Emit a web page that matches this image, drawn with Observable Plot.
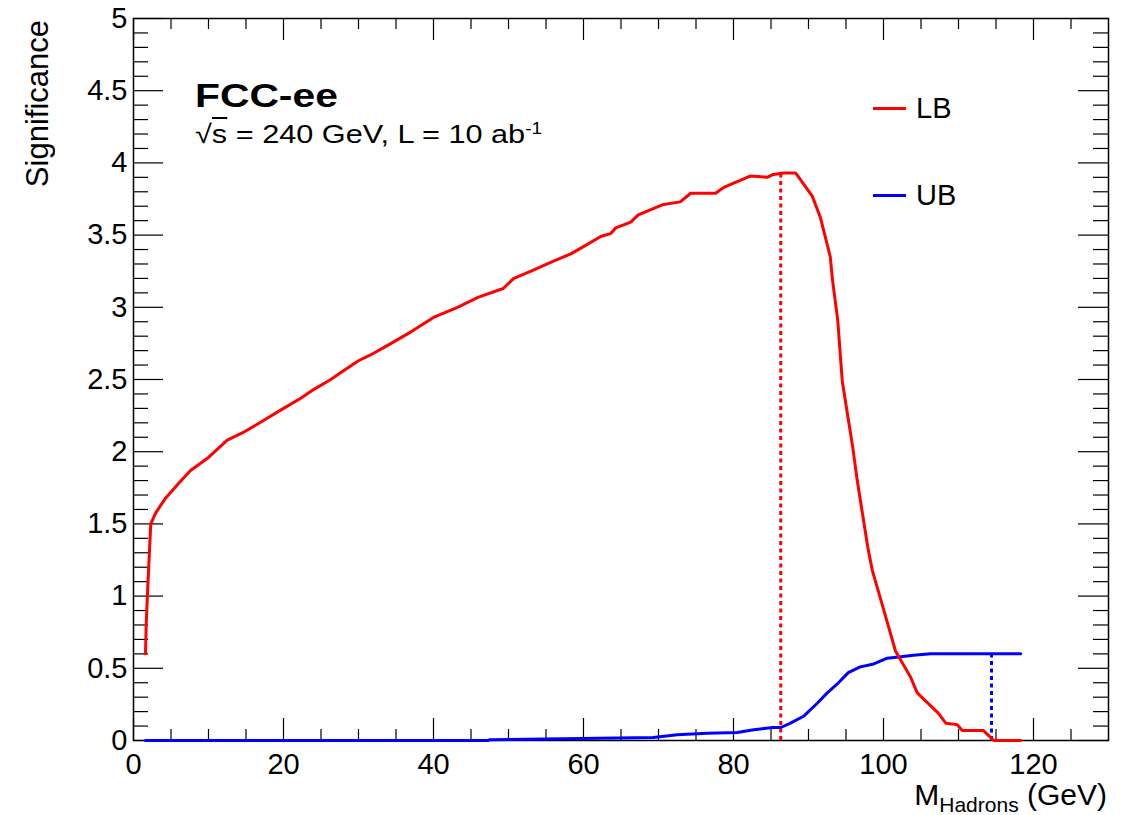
<!DOCTYPE html>
<html>
<head>
<meta charset="utf-8">
<script src="https://cdn.jsdelivr.net/npm/d3@7"></script>
<script src="https://cdn.jsdelivr.net/npm/@observablehq/plot@0.6"></script>
<style>
  html, body { margin: 0; padding: 0; background: #fff; }
  #wrap { position: relative; width: 1133px; height: 815px; font-family: "Liberation Sans", Arial, Helvetica, sans-serif; color: #000; }
  .ov { position: absolute; white-space: nowrap; line-height: 1; }
  .leg { position: absolute; display: flex; align-items: center; font-size: 29px; line-height: 1; }
  .leg .sw { display: inline-block; width: 33px; height: 0; border-top: 3px solid; margin-right: 10px; }
</style>
</head>
<body>
<div id="wrap"></div>
<script>
// ---- data ----
const lbMass = [1.6,1.7,1.9,2.1,2.3,3.0,4.3,6.0,7.6,10,12.5,14.5,16.5,20,22.3,24,26.3,28,30,31.6,34,37,40,43.2,46,49.3,50.7,53,56,58.3,60,62.3,63.6,64.3,66.3,67.3,70.5,72.9,74.3,77.6,78.7,82.3,84.5,85.3,86.7,88.3,90.5,91.6,92.9,93.2,93.9,94.5,95.2,95.9,96.5,97.2,97.9,98.5,100,101.6,103.6,104.5,107.3,108.3,109.8,110.5,113.3,114.7,118.3];
const lbSig  = [0.60,0.82,1.06,1.28,1.50,1.58,1.68,1.78,1.87,1.96,2.08,2.13,2.19,2.30,2.37,2.43,2.50,2.56,2.63,2.67,2.74,2.83,2.93,3.00,3.07,3.13,3.20,3.25,3.32,3.37,3.42,3.49,3.51,3.55,3.59,3.64,3.71,3.73,3.79,3.79,3.83,3.91,3.90,3.92,3.93,3.93,3.77,3.62,3.35,3.19,2.91,2.49,2.26,2.03,1.80,1.57,1.34,1.18,0.91,0.62,0.44,0.33,0.19,0.12,0.11,0.07,0.07,0.00,0.00];
const ubMass = [1.6,47.3,47.5,69.3,72.5,76.5,80.5,82.7,83.6,85.2,86.3,87.6,89.4,91.2,92.5,93.8,95.3,96.9,98.7,100.5,102.3,104,106.3,118.3];
const ubSig  = [0,0,0.006,0.02,0.04,0.05,0.055,0.075,0.08,0.09,0.09,0.12,0.17,0.26,0.33,0.39,0.47,0.51,0.53,0.57,0.58,0.59,0.60,0.60];
const seriesNames = ["LB", "UB"];
const seriesColors = ["#ff0000", "#0000ff"];
const cutMass = [86.3, 114.4];   // optimal cut positions
const cutSig  = [3.92, 0.60];
const xMajorTicks = [0,20,40,60,80,100,120];
const xMinorTicks = [5,10,15,25,30,35,45,50,55,65,70,75,85,90,95,105,110,115,125];
const yMajorTicks = [0,0.5,1,1.5,2,2.5,3,3.5,4,4.5,5];
const yMinorTicks = [0.1,0.2,0.3,0.4,0.6,0.7,0.8,0.9,1.1,1.2,1.3,1.4,1.6,1.7,1.8,1.9,2.1,2.2,2.3,2.4,2.6,2.7,2.8,2.9,3.1,3.2,3.3,3.4,3.6,3.7,3.8,3.9,4.1,4.2,4.3,4.4,4.6,4.7,4.8,4.9];

// ---- tables ----
const lb = lbMass.map((m, i) => ({m, s: lbSig[i]}));
const ub = ubMass.map((m, i) => ({m, s: ubSig[i]}));
const cuts = cutMass.map((m, i) => ({m, s: cutSig[i], c: seriesColors[i]}));

const W = 1133, H = 815, mL = 133, mR = 25, mT = 18, mB = 75;
const iW = W - mL - mR, iH = H - mT - mB;
const xMaj = 22, xMin = 11, yMaj = 30, yMin = 15;

const chart = Plot.plot({
  width: W, height: H,
  marginLeft: mL, marginRight: mR, marginTop: mT, marginBottom: mB,
  style: {fontFamily: '"Liberation Sans", Arial, Helvetica, sans-serif', fontSize: "29px", color: "#000", background: "#fff", overflow: "visible"},
  x: {domain: [0, 130], ticks: xMajorTicks, tickSize: 0, tickPadding: 13, tickFormat: d => String(d), label: null},
  y: {domain: [0, 5], ticks: yMajorTicks, tickSize: 0, tickPadding: 6, tickFormat: d => String(d), label: null},
  marks: [
    Plot.frame({stroke: "#000", strokeWidth: 1.5}),
    // inward ticks (bottom, top, left, right)
    Plot.tickX(xMajorTicks, {x: d => d, insetTop: iH - xMaj, stroke: "#000", strokeWidth: 1.2}),
    Plot.tickX(xMinorTicks, {x: d => d, insetTop: iH - xMin, stroke: "#000", strokeWidth: 1.2}),
    Plot.tickX(xMajorTicks, {x: d => d, insetBottom: iH - xMaj, stroke: "#000", strokeWidth: 1.2}),
    Plot.tickX(xMinorTicks, {x: d => d, insetBottom: iH - xMin, stroke: "#000", strokeWidth: 1.2}),
    Plot.tickY(yMajorTicks, {y: d => d, insetRight: iW - yMaj, stroke: "#000", strokeWidth: 1.2}),
    Plot.tickY(yMinorTicks, {y: d => d, insetRight: iW - yMin, stroke: "#000", strokeWidth: 1.2}),
    Plot.tickY(yMajorTicks, {y: d => d, insetLeft: iW - yMaj, stroke: "#000", strokeWidth: 1.2}),
    Plot.tickY(yMinorTicks, {y: d => d, insetLeft: iW - yMin, stroke: "#000", strokeWidth: 1.2}),
    // optimal-cut markers
    Plot.ruleX(cuts, {x: "m", y1: 0, y2: "s", stroke: "c", strokeWidth: 3, strokeDasharray: "4,3.5"}),
    // curves
    Plot.line(ub, {x: "m", y: "s", stroke: seriesColors[1], strokeWidth: 3, curve: "linear"}),
    Plot.line(lb, {x: "m", y: "s", stroke: seriesColors[0], strokeWidth: 3, curve: "linear"})
  ]
});

const wrap = document.getElementById("wrap");
wrap.appendChild(chart);

function ov(html, css) {
  const d = document.createElement("div");
  d.className = "ov";
  d.innerHTML = html;
  Object.assign(d.style, css);
  wrap.appendChild(d);
  return d;
}
// title block
ov("FCC-ee", {left: "195px", top: "78px", fontSize: "34px", fontWeight: "bold", transform: "scaleX(1.2)", transformOrigin: "left center"});
ov('√<span style="text-decoration: overline">s</span> = 240 GeV, L = 10 ab<sup style="font-size:0.62em; vertical-align: 0.55em">-1</sup>',
   {left: "195px", top: "120px", fontSize: "26px", transform: "scaleX(1.18)", transformOrigin: "left center"});
// axis titles
ov("Significance", {left: "22px", top: "20px", fontSize: "31px", writingMode: "vertical-rl", transform: "rotate(180deg)"});
ov('M<span style="font-size:0.7em; position: relative; top: 0.35em">Hadrons</span> (GeV)', {right: "26px", top: "780px", fontSize: "30px"});

// legend
seriesNames.forEach((name, i) => {
  const d = document.createElement("div");
  d.className = "leg";
  d.style.left = "873px";
  d.style.top = (i === 0 ? 94 : 181) + "px";
  d.innerHTML = `<span class="sw" style="border-color:${seriesColors[i]}"></span><span>${name}</span>`;
  wrap.appendChild(d);
});
</script>
</body>
</html>
